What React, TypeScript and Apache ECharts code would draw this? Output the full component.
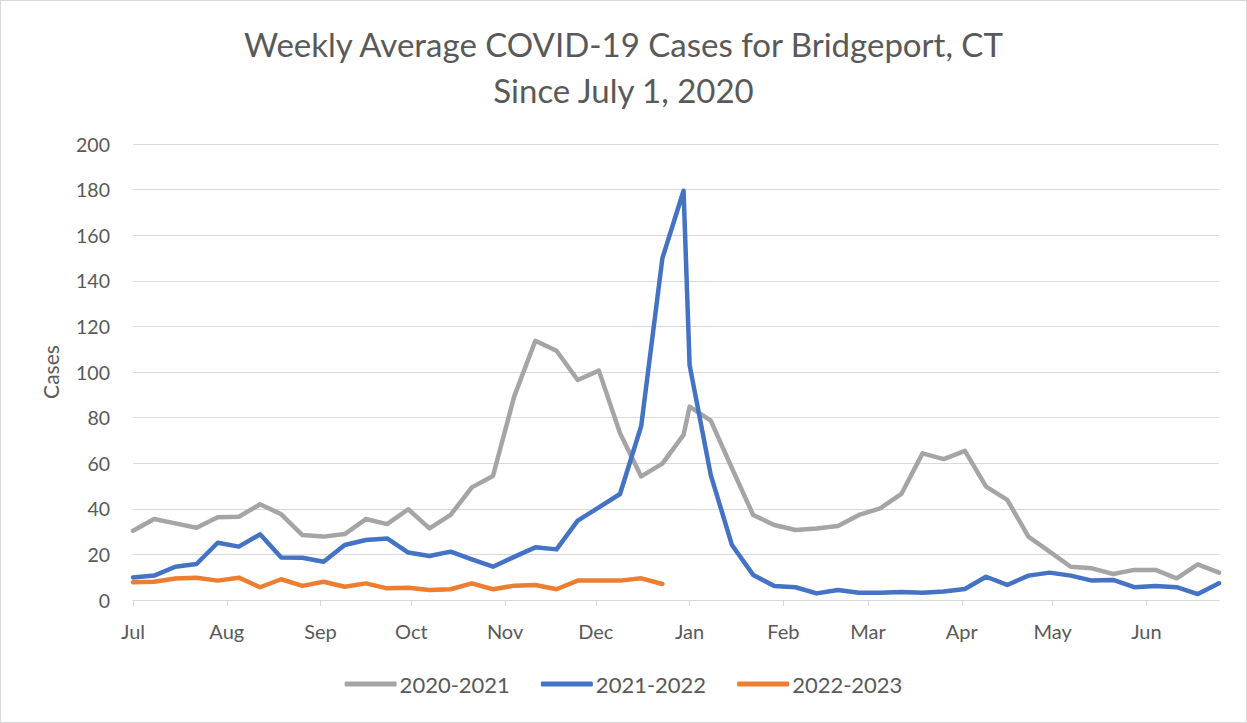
import React, { useEffect, useRef } from "react";
import * as echarts from "echarts";

// Week dates (month-day) at which the weekly averages are plotted
const weeks = [
  "07-01", "07-08", "07-15", "07-22", "07-29", "08-05", "08-12", "08-19", "08-26",
  "09-02", "09-09", "09-16", "09-23", "09-30", "10-07", "10-14", "10-21", "10-28",
  "11-04", "11-11", "11-18", "11-25", "12-02", "12-09", "12-16", "12-23", "12-30",
  "01-01", "01-08", "01-15", "01-22", "01-29", "02-05", "02-12", "02-19", "02-26",
  "03-05", "03-12", "03-19", "03-26", "04-02", "04-09", "04-16", "04-23", "04-30",
  "05-07", "05-14", "05-21", "05-28", "06-04", "06-11", "06-18", "06-25",
];

const cases2020 = [
  30.4, 35.5, 33.6, 31.7, 36.3, 36.5, 42.0, 37.6, 28.5, 27.8, 28.9, 35.5, 33.3, 39.8,
  31.4, 37.3, 49.4, 54.4, 89.2, 113.7, 109.3, 96.5, 100.6, 73.1, 54.2, 59.8, 72.4,
  84.8, 78.7, 57.8, 37.3, 32.9, 30.7, 31.4, 32.5, 37.3, 40.2, 46.5, 64.3, 61.8, 65.4,
  49.7, 43.9, 27.8, 21.2, 14.6, 13.9, 11.4, 13.2, 13.2, 9.5, 15.6, 12.0,
];

const cases2021 = [
  9.9, 10.7, 14.6, 15.8, 25.1, 23.4, 28.8, 18.6, 18.5, 16.8, 24.1, 26.3, 27.0, 20.8,
  19.3, 21.2, 17.8, 14.6, 18.9, 23.1, 22.2, 34.8, 40.6, 46.5, 76.3, 149.9, 179.5,
  103.0, 54.8, 24.1, 11.0, 6.1, 5.6, 2.9, 4.4, 3.2, 3.2, 3.5, 3.2, 3.7, 4.8,
  10.2, 6.6, 10.7, 12.0, 10.7, 8.5, 8.8, 5.6, 6.1, 5.6, 2.6, 7.3,
];

const cases2022 = [
  7.8, 8.0, 9.4, 9.8, 8.5, 9.8, 5.6, 9.1, 6.2, 8.0, 5.8, 7.3, 5.1, 5.4, 4.4, 4.7,
  7.3, 4.7, 6.3, 6.6, 4.7, 8.5, 8.5, 8.5, 9.5, 7.0,
];

const seriesNames = ["2020-2021", "2021-2022", "2022-2023"];
const monthNames = ["Jan", "Feb", "Mar", "Apr", "May", "Jun", "Jul", "Aug", "Sep", "Oct", "Nov", "Dec"];
const yTicks = { min: 0, max: 200, interval: 20 };

// daily category axis from Jul 1, 2020 to Jun 25, 2021
const axisStart = Date.UTC(2020, 6, 1);
const axisEnd = Date.UTC(2021, 5, 25);
const dayMs = 86400000;
const days: string[] = [];
const dayMonth: number[] = [];
const dayOfMonth: number[] = [];
for (let t = axisStart; t <= axisEnd; t += dayMs) {
  const d = new Date(t);
  const mm = String(d.getUTCMonth() + 1).padStart(2, "0");
  const dd = String(d.getUTCDate()).padStart(2, "0");
  days.push(mm + "-" + dd);
  dayMonth.push(d.getUTCMonth());
  dayOfMonth.push(d.getUTCDate());
}

const toPairs = (vals: number[]) => vals.map((v, i) => [days.indexOf(weeks[i]), v]);

const FONT = "Lato";
const TEXT = "#595959";

export default function App() {
  const ref = useRef<HTMLDivElement>(null);
  useEffect(() => {
    if (!ref.current) return;
    const chart = echarts.init(ref.current, null, { renderer: "svg" });
    const isMonthStart = (idx: number) => dayOfMonth[idx] === 1;
    chart.setOption({
      animation: false,
      backgroundColor: "#ffffff",
      textStyle: { fontFamily: FONT },
      title: {
        text: "Weekly Average COVID-19 Cases for Bridgeport, CT\nSince July 1, 2020",
        left: "center",
        top: 16,
        textStyle: { fontFamily: FONT, fontSize: 33, fontWeight: "normal", color: TEXT, lineHeight: 46 },
      },
      legend: {
        data: seriesNames,
        bottom: 23,
        left: "center",
        icon: "roundRect",
        itemWidth: 52,
        itemHeight: 5,
        itemGap: 31,
        textStyle: { fontFamily: FONT, fontSize: 22, color: TEXT, padding: [0, 0, 0, -2] },
      },
      grid: { left: 133, right: 28, top: 144, bottom: 123, containLabel: false },
      xAxis: {
        type: "category",
        data: days,
        boundaryGap: false,
        axisLine: { show: true, lineStyle: { color: "#d9d9d9", width: 1 } },
        axisTick: {
          show: true,
          interval: (idx: number) => isMonthStart(idx),
          length: 6,
          lineStyle: { color: "#d9d9d9" },
        },
        axisLabel: {
          interval: (idx: number) => isMonthStart(idx),
          formatter: (_v: string, idx: number) => monthNames[dayMonth[idx]],
          fontFamily: FONT,
          fontSize: 20,
          color: TEXT,
          margin: 21,
        },
        splitLine: { show: false },
      },
      yAxis: {
        type: "value",
        min: yTicks.min,
        max: yTicks.max,
        interval: yTicks.interval,
        name: "Cases",
        nameLocation: "middle",
        nameGap: 72,
        nameRotate: 90,
        nameTextStyle: { fontFamily: FONT, fontSize: 21, color: TEXT },
        axisLine: { show: false },
        axisTick: { show: false },
        axisLabel: { fontFamily: FONT, fontSize: 19.5, color: TEXT, margin: 23 },
        splitLine: { lineStyle: { color: "#d9d9d9", width: 1 } },
      },
      series: [
        {
          name: seriesNames[0],
          type: "line",
          data: toPairs(cases2020),
          showSymbol: false,
          color: "#A5A5A5",
          lineStyle: { width: 4.5, cap: "round", join: "round" },
        },
        {
          name: seriesNames[1],
          type: "line",
          data: toPairs(cases2021),
          showSymbol: false,
          color: "#4472C4",
          lineStyle: { width: 4.5, cap: "round", join: "round" },
        },
        {
          name: seriesNames[2],
          type: "line",
          data: toPairs(cases2022),
          showSymbol: false,
          color: "#ED7D31",
          lineStyle: { width: 4.5, cap: "round", join: "round" },
        },
      ],
    });
    return () => chart.dispose();
  }, []);
  return (
    <div style={{ position: "absolute", left: 0, top: 0, width: 1247, height: 723, background: "#fff" }}>
      <div ref={ref} style={{ position: "absolute", left: 0, top: 0, width: 1247, height: 723 }} />
      <div
        style={{
          position: "absolute",
          left: 0,
          top: 0,
          width: 1247,
          height: 723,
          boxSizing: "border-box",
          border: "1px solid #d9d9d9",
          pointerEvents: "none",
        }}
      />
    </div>
  );
}
